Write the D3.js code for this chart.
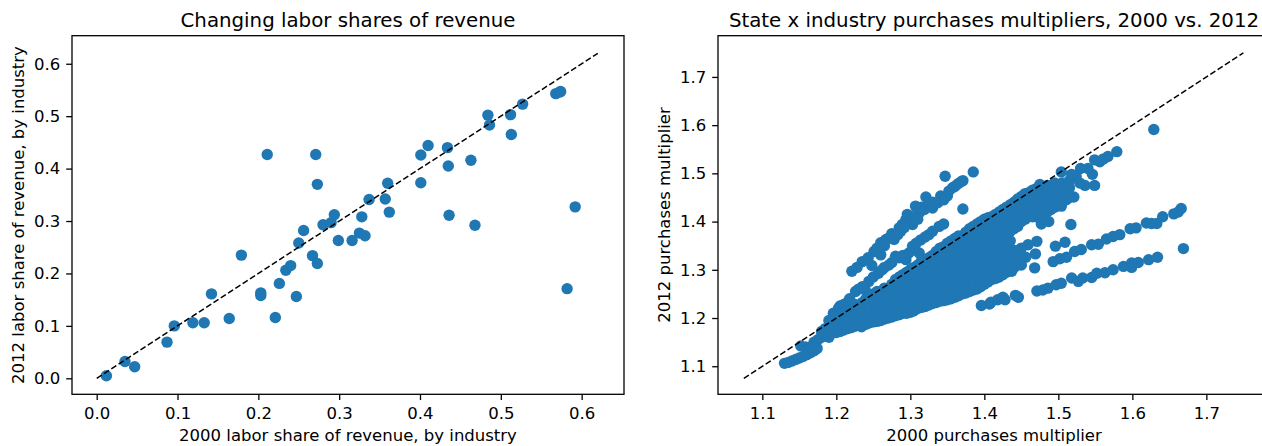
<!DOCTYPE html>
<html><head><meta charset="utf-8">
<script src="https://cdn.jsdelivr.net/npm/d3@7/dist/d3.min.js"></script>
<style>html,body{margin:0;padding:0;background:#fff;overflow:hidden}svg{display:block}text{font-family:"DejaVu Sans",sans-serif;fill:#000}</style>
</head><body><svg id="c" width="1262" height="446"></svg>
<script>
const labor2000=[0.012,0.035,0.047,0.087,0.096,0.119,0.133,0.142,0.164,0.179,0.203,0.203,0.211,0.221,0.226,0.234,0.24,0.247,0.25,0.256,0.267,0.271,0.273,0.273,0.28,0.29,0.294,0.299,0.316,0.325,0.328,0.332,0.337,0.357,0.36,0.362,0.401,0.401,0.41,0.434,0.435,0.436,0.463,0.468,0.484,0.486,0.512,0.513,0.527,0.568,0.573,0.574,0.582,0.592];
const labor2012=[0.005,0.032,0.022,0.069,0.1,0.106,0.106,0.161,0.114,0.235,0.163,0.158,0.427,0.116,0.181,0.206,0.215,0.156,0.258,0.282,0.234,0.427,0.219,0.37,0.293,0.297,0.312,0.263,0.263,0.277,0.308,0.272,0.341,0.342,0.372,0.317,0.426,0.373,0.444,0.44,0.405,0.311,0.416,0.292,0.502,0.483,0.503,0.465,0.523,0.543,0.546,0.547,0.171,0.327];

const tailBand=[[1.13,1.106],[1.135,1.108],[1.14,1.111],[1.145,1.114],[1.15,1.117],[1.155,1.12],[1.16,1.124],[1.165,1.128],[1.17,1.132],[1.174,1.137],[1.152,1.142],[1.158,1.14],[1.162,1.135],[1.165,1.14],[1.17,1.15],[1.175,1.155],[1.18,1.16],[1.18,1.172],[1.185,1.165],[1.185,1.178]];
const lowestBand=[[1.396,1.226],[1.407,1.229],[1.409,1.233],[1.418,1.238],[1.425,1.243],[1.428,1.238],[1.442,1.247],[1.446,1.243]];
const lowerTail=[[1.471,1.256],[1.479,1.258],[1.486,1.262],[1.497,1.269],[1.504,1.272],[1.518,1.283],[1.527,1.276],[1.533,1.283],[1.545,1.284],[1.552,1.293],[1.563,1.294],[1.574,1.3],[1.588,1.307],[1.599,1.314],[1.599,1.305],[1.608,1.315],[1.622,1.321],[1.634,1.326],[1.669,1.344]];
const upperTail=[[1.493,1.317],[1.502,1.323],[1.511,1.326],[1.522,1.338],[1.531,1.342],[1.545,1.352],[1.554,1.353],[1.565,1.364],[1.574,1.369],[1.583,1.373],[1.597,1.385],[1.605,1.387],[1.619,1.397],[1.626,1.396],[1.633,1.396],[1.641,1.41],[1.656,1.416],[1.662,1.42],[1.666,1.427]];
const scattered=[[1.496,1.349],[1.509,1.357],[1.517,1.394],[1.468,1.304],[1.437,1.297],[1.477,1.395],[1.487,1.4],[1.471,1.359],[1.469,1.333],[1.459,1.352],[1.456,1.326],[1.443,1.321],[1.629,1.591],[1.371,1.426],[1.347,1.494],[1.385,1.503]];
const topRight=[[1.579,1.545],[1.567,1.535],[1.556,1.524],[1.549,1.528],[1.561,1.53],[1.549,1.475],[1.536,1.475],[1.546,1.498],[1.54,1.51],[1.53,1.51],[1.524,1.494],[1.518,1.498],[1.504,1.503],[1.521,1.451],[1.511,1.446],[1.504,1.432],[1.529,1.48],[1.511,1.474],[1.475,1.477]];
const topBand=[[1.221,1.297],[1.235,1.317],[1.248,1.309],[1.251,1.338],[1.26,1.331],[1.26,1.356],[1.278,1.369],[1.285,1.387],[1.294,1.404],[1.303,1.394],[1.312,1.418],[1.321,1.451],[1.307,1.432],[1.33,1.428],[1.341,1.453],[1.35,1.453],[1.357,1.47],[1.371,1.485],[1.267,1.363],[1.271,1.366],[1.289,1.394],[1.296,1.415],[1.298,1.397],[1.319,1.425],[1.337,1.439],[1.364,1.478],[1.287,1.38],[1.278,1.363],[1.228,1.305],[1.243,1.325],[1.255,1.345],[1.265,1.35],[1.275,1.375],[1.283,1.373],[1.292,1.388],[1.3,1.41],[1.305,1.41],[1.31,1.405],[1.315,1.43],[1.325,1.44],[1.33,1.44],[1.345,1.445],[1.352,1.463],[1.36,1.473],[1.368,1.482]];
const middleBand=[[1.196,1.21],[1.203,1.22],[1.214,1.231],[1.226,1.255],[1.239,1.258],[1.244,1.276],[1.257,1.293],[1.271,1.31],[1.28,1.328],[1.294,1.321],[1.298,1.335],[1.303,1.349],[1.312,1.335],[1.314,1.362],[1.325,1.373],[1.339,1.39],[1.205,1.225],[1.21,1.228],[1.218,1.24],[1.23,1.26],[1.235,1.265],[1.25,1.285],[1.262,1.3],[1.265,1.305],[1.275,1.315],[1.285,1.325],[1.29,1.33],[1.308,1.355],[1.32,1.368],[1.33,1.38],[1.345,1.395]];
// each row: 2000 value, then the 2012 values read at that position in the dense cloud
const cloudRows=[
[1.19,1.16,1.18,1.195],[1.2,1.17,1.19,1.205],[1.21,1.175,1.195,1.212],[1.22,1.18,1.2,1.22],[1.23,1.185,1.205,1.225],
[1.234,1.182],[1.24,1.187,1.205,1.225,1.24],[1.25,1.192,1.21,1.23,1.25],[1.26,1.195,1.215,1.235,1.255],[1.27,1.2,1.22,1.24,1.26],
[1.28,1.205,1.225,1.245,1.265,1.28],[1.29,1.21,1.23,1.25,1.27,1.29],[1.3,1.212,1.235,1.255,1.275,1.3],[1.31,1.22,1.24,1.26,1.28,1.3,1.31],
[1.32,1.224,1.245,1.265,1.285,1.305,1.32],[1.33,1.23,1.25,1.27,1.29,1.31,1.33],[1.34,1.235,1.255,1.275,1.295,1.315,1.335,1.345],
[1.35,1.238,1.26,1.28,1.3,1.32,1.34,1.355],[1.36,1.243,1.265,1.285,1.305,1.325,1.345,1.365],[1.37,1.25,1.27,1.29,1.31,1.33,1.35,1.37],
[1.38,1.255,1.275,1.295,1.315,1.335,1.355,1.375,1.385],[1.39,1.26,1.28,1.3,1.32,1.34,1.36,1.38,1.395],[1.4,1.27,1.285,1.305,1.325,1.345,1.365,1.385,1.405],
[1.41,1.28,1.295,1.31,1.33,1.35,1.37,1.39,1.41],[1.42,1.285,1.3,1.32,1.34,1.36,1.38,1.4,1.42],[1.43,1.295,1.31,1.33,1.35,1.37,1.39,1.41,1.43],
[1.44,1.305,1.32,1.34,1.385,1.4,1.42,1.44],[1.45,1.31,1.33,1.345,1.4,1.42,1.44,1.452],[1.46,1.41,1.43,1.45,1.46],[1.47,1.41,1.43,1.45,1.468],
[1.48,1.415,1.435,1.455,1.472],[1.49,1.425,1.445,1.465,1.475],[1.5,1.435,1.455,1.47],[1.51,1.445,1.46,1.475]];
const cloudRowsB=[
[1.195,1.17,1.185,1.2],[1.205,1.172,1.19,1.208],[1.215,1.178,1.195,1.215],[1.225,1.183,1.2,1.215,1.228],[1.235,1.186,1.2,1.215,1.232],
[1.245,1.19,1.205,1.22,1.24,1.245],[1.255,1.193,1.21,1.225,1.245,1.255],[1.265,1.198,1.215,1.23,1.25,1.262],[1.275,1.202,1.22,1.235,1.25,1.27],
[1.285,1.207,1.225,1.24,1.26,1.275,1.285],[1.295,1.21,1.23,1.245,1.26,1.28,1.295],[1.305,1.215,1.23,1.25,1.27,1.29,1.305],
[1.315,1.222,1.235,1.25,1.27,1.29,1.31,1.318],[1.325,1.227,1.24,1.255,1.275,1.295,1.315,1.325],[1.335,1.232,1.245,1.26,1.28,1.3,1.32,1.338],
[1.345,1.236,1.25,1.265,1.285,1.305,1.325,1.348],[1.355,1.24,1.255,1.27,1.29,1.31,1.33,1.35,1.36],[1.365,1.246,1.26,1.275,1.295,1.315,1.335,1.355,1.37],
[1.375,1.252,1.265,1.28,1.3,1.32,1.34,1.36,1.378],[1.385,1.258,1.27,1.285,1.305,1.325,1.345,1.365,1.39],[1.395,1.265,1.275,1.29,1.31,1.33,1.35,1.37,1.39,1.4],
[1.405,1.275,1.29,1.3,1.32,1.34,1.36,1.38,1.408],[1.415,1.282,1.3,1.32,1.34,1.36,1.38,1.4,1.415],[1.425,1.29,1.305,1.325,1.345,1.365,1.385,1.405,1.425],
[1.435,1.3,1.315,1.335,1.36,1.38,1.4,1.42,1.435],[1.445,1.31,1.325,1.34,1.39,1.41,1.43,1.447],[1.455,1.405,1.425,1.445,1.458],[1.465,1.41,1.43,1.45,1.465],
[1.475,1.415,1.44,1.46,1.47],[1.485,1.42,1.44,1.46,1.475],[1.495,1.43,1.45,1.47,1.48],[1.505,1.44,1.46,1.48],[1.515,1.45,1.47,1.485]];

const leftTicks=[0,0.1,0.2,0.3,0.4,0.5,0.6];
const rightTicks=[1.1,1.2,1.3,1.4,1.5,1.6,1.7];
const leftDiagonal=[0,0.62];
const rightDiagonal=[1.075,1.75];

const leftPts=labor2000.map((x,i)=>[x,labor2012[i]]);
const cloud=[...cloudRows,...cloudRowsB].flatMap(r=>r.slice(1).map(y=>[r[0],y]));
const rightPts=[...tailBand,...lowestBand,...lowerTail,...upperTail,...scattered,...topRight,...topBand,...middleBand,...cloud];

const svg=d3.select("#c");
function panel(o){
  const x=d3.scaleLinear().domain(o.xd).range([o.l,o.r]);
  const y=d3.scaleLinear().domain(o.yd).range([o.b,o.t]);
  const g=svg.append("g");
  g.selectAll("circle").data(o.pts).join("circle")
    .attr("cx",d=>x(d[0])).attr("cy",d=>y(d[1])).attr("r",5.7).attr("fill","#1f77b4");
  g.append("line").attr("x1",x(o.diag[0])).attr("y1",y(o.diag[0])).attr("x2",x(o.diag[1])).attr("y2",y(o.diag[1]))
    .attr("stroke","#000").attr("stroke-width",1.5).attr("stroke-dasharray","6,2.7");
  const style=s=>{s.select(".domain").remove();s.selectAll("line").attr("stroke","#000").attr("stroke-width",1.3);
    s.selectAll("text").attr("font-size",16.5).style("font-family",'"DejaVu Sans"').attr("fill","#000");};
  g.append("g").attr("transform",`translate(0,${o.b})`)
    .call(d3.axisBottom(x).tickValues(o.ticks).tickFormat(d3.format(".1f")).tickSize(5.8).tickPadding(7)).call(style);
  g.append("g").attr("transform",`translate(${o.l},0)`)
    .call(d3.axisLeft(y).tickValues(o.ticks).tickFormat(d3.format(".1f")).tickSize(5.8).tickPadding(6)).call(style);
  g.append("rect").attr("x",o.l).attr("y",o.t).attr("width",o.r-o.l).attr("height",o.b-o.t)
    .attr("fill","none").attr("stroke","#000").attr("stroke-width",1.3);
  g.append("text").attr("x",(o.l+o.r)/2).attr("y",27).attr("text-anchor","middle").attr("font-size",19.8).text(o.title);
  g.append("text").attr("x",(o.l+o.r)/2).attr("y",441).attr("text-anchor","middle").attr("font-size",16.5).text(o.xl);
  g.append("text").attr("transform",`translate(${o.yx},${(o.t+o.b)/2}) rotate(-90)`).attr("text-anchor","middle").attr("font-size",16.5).text(o.yl);
}
panel({l:72,r:624,t:35.7,b:394.3,xd:[-0.03056,0.6524],yd:[-0.0305,0.6535],pts:leftPts,diag:leftDiagonal,ticks:leftTicks,
  title:"Changing labor shares of revenue",xl:"2000 labor share of revenue, by industry",yl:"2012 labor share of revenue, by industry",yx:24});
panel({l:718,r:1270,t:35.7,b:394.3,xd:[1.0401,1.786],yd:[1.0418,1.7855],pts:rightPts,diag:rightDiagonal,ticks:rightTicks,
  title:"State x industry purchases multipliers, 2000 vs. 2012",xl:"2000 purchases multiplier",yl:"2012 purchases multiplier",yx:670});
</script></body></html>
